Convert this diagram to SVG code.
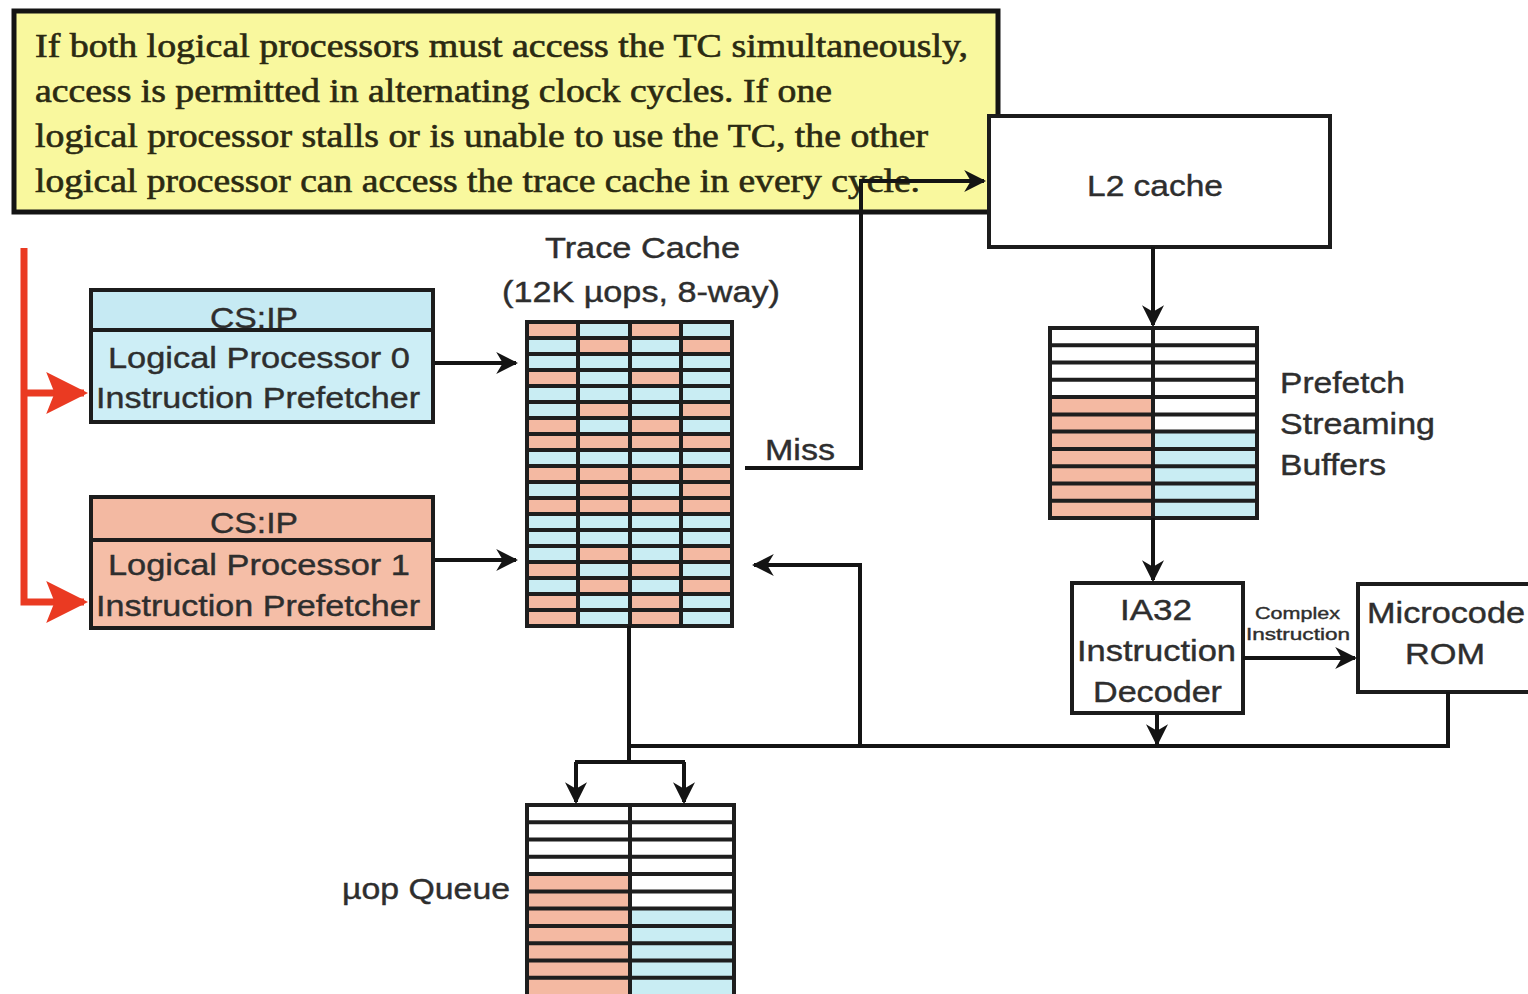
<svg xmlns="http://www.w3.org/2000/svg" width="1528" height="994" viewBox="0 0 1528 994">
  <style>
    .sans { font-family: "Liberation Sans", Arial, sans-serif; fill: #2e2e2e; stroke: #2e2e2e; stroke-width: 0.4; }
    .serif { font-family: "Liberation Serif", "Times New Roman", serif; fill: #2b2a12; stroke: #2b2a12; stroke-width: 0.6; font-size: 33px; }
    .box { stroke: #1c1c1c; stroke-width: 4; }
    .wire { fill: none; stroke: #141414; stroke-width: 4; }
    .red { fill: none; stroke: #ea3a22; stroke-width: 7; }
    .grid { stroke: #1e1e1e; stroke-width: 4; fill: none; }
    .pk { fill: #f4b9a2; }
    .bl { fill: #c9edf3; }
    .wh { fill: #ffffff; }
  </style>
  <defs>
    <marker id="arrow" viewBox="0 0 10 10" refX="9" refY="5" markerWidth="5.5" markerHeight="5.5" orient="auto" markerUnits="strokeWidth">
      <path d="M0,0 L10,5 L0,10 L3,5 Z" fill="#141414"/>
    </marker>
    <marker id="redArrow" viewBox="0 0 10 10" refX="9" refY="5" markerWidth="6" markerHeight="6" orient="auto" markerUnits="strokeWidth">
      <path d="M0,0 L10,5 L0,10 L2,5 Z" fill="#ea3a22"/>
    </marker>
    <!-- trace cache row fills: four cells of 51 px -->
    <g id="rowA"><rect class="pk" x="0" y="0" width="51" height="16"/><rect class="bl" x="51" y="0" width="52" height="16"/><rect class="pk" x="103" y="0" width="51" height="16"/><rect class="bl" x="154" y="0" width="51" height="16"/></g>
    <g id="rowB"><rect class="bl" x="0" y="0" width="51" height="16"/><rect class="pk" x="51" y="0" width="52" height="16"/><rect class="bl" x="103" y="0" width="51" height="16"/><rect class="pk" x="154" y="0" width="51" height="16"/></g>
    <g id="rowC"><rect class="bl" x="0" y="0" width="205" height="16"/></g>
    <g id="rowD"><rect class="pk" x="0" y="0" width="205" height="16"/></g>
  </defs>

  <rect width="1528" height="994" fill="#ffffff"/>

  <!-- note -->
  <g id="note">
    <rect x="14" y="11" width="984" height="201" fill="#f9f89e" stroke="#141414" stroke-width="5"/>
    <text class="serif" x="35" y="57" textLength="933" lengthAdjust="spacingAndGlyphs">If both logical processors must access the TC simultaneously,</text>
    <text class="serif" x="35" y="102" textLength="797" lengthAdjust="spacingAndGlyphs">access is permitted in alternating clock cycles. If one</text>
    <text class="serif" x="35" y="147" textLength="893" lengthAdjust="spacingAndGlyphs">logical processor stalls or is unable to use the TC, the other</text>
    <text class="serif" x="35" y="192" textLength="885" lengthAdjust="spacingAndGlyphs">logical processor can access the trace cache in every cycle.</text>
  </g>

  <!-- L2 cache -->
  <g id="l2cache">
    <rect class="box" x="989" y="116" width="341" height="131" fill="#ffffff"/>
    <text class="sans" x="1087" y="196" font-size="29" textLength="136" lengthAdjust="spacingAndGlyphs">L2 cache</text>
  </g>

  <!-- logical processor 0 prefetcher -->
  <g id="lp0">
    <rect x="91" y="290" width="342" height="132" fill="#cdeef6"/>
    <rect x="91" y="290" width="342" height="40" fill="#c6eaf3"/>
    <text class="sans" x="210" y="328" font-size="30" textLength="88" lengthAdjust="spacingAndGlyphs">CS:IP</text>
    <line x1="91" y1="330" x2="433" y2="330" stroke="#1c1c1c" stroke-width="4"/>
    <rect class="box" x="91" y="290" width="342" height="132" fill="none"/>
    <text class="sans" x="108" y="368" font-size="30" textLength="302" lengthAdjust="spacingAndGlyphs">Logical Processor 0</text>
    <text class="sans" x="96" y="408" font-size="30" textLength="324" lengthAdjust="spacingAndGlyphs">Instruction Prefetcher</text>
  </g>

  <!-- logical processor 1 prefetcher -->
  <g id="lp1">
    <rect x="91" y="497" width="342" height="131" fill="#f5bea7"/>
    <rect x="91" y="497" width="342" height="43" fill="#f3b9a2"/>
    <text class="sans" x="210" y="533" font-size="30" textLength="88" lengthAdjust="spacingAndGlyphs">CS:IP</text>
    <line x1="91" y1="540" x2="433" y2="540" stroke="#1c1c1c" stroke-width="4"/>
    <rect class="box" x="91" y="497" width="342" height="131" fill="none"/>
    <text class="sans" x="108" y="575" font-size="30" textLength="302" lengthAdjust="spacingAndGlyphs">Logical Processor 1</text>
    <text class="sans" x="96" y="616" font-size="30" textLength="324" lengthAdjust="spacingAndGlyphs">Instruction Prefetcher</text>
  </g>

  <!-- trace cache -->
  <g id="tracecache">
    <text class="sans" x="545" y="258" font-size="29" textLength="195" lengthAdjust="spacingAndGlyphs">Trace Cache</text>
    <text class="sans" x="502" y="302" font-size="29" textLength="278" lengthAdjust="spacingAndGlyphs">(12K µops, 8-way)</text>
    <g transform="translate(527,322)">
      <use href="#rowA" y="0"/>
      <use href="#rowB" y="16"/>
      <use href="#rowC" y="32"/>
      <use href="#rowA" y="48"/>
      <use href="#rowC" y="64"/>
      <use href="#rowB" y="80"/>
      <use href="#rowA" y="96"/>
      <use href="#rowD" y="112"/>
      <use href="#rowC" y="128"/>
      <use href="#rowD" y="144"/>
      <use href="#rowB" y="160"/>
      <use href="#rowD" y="176"/>
      <use href="#rowC" y="192"/>
      <use href="#rowC" y="208"/>
      <use href="#rowB" y="224"/>
      <use href="#rowA" y="240"/>
      <use href="#rowB" y="256"/>
      <use href="#rowA" y="272"/>
      <use href="#rowA" y="288"/>
      <path class="grid" d="M0,16H205M0,32H205M0,48H205M0,64H205M0,80H205M0,96H205M0,112H205M0,128H205M0,144H205M0,160H205M0,176H205M0,192H205M0,208H205M0,224H205M0,240H205M0,256H205M0,272H205M0,288H205M51,0V304M103,0V304M154,0V304"/>
      <rect class="grid" x="0" y="0" width="205" height="304"/>
    </g>
    <text class="sans" x="765" y="460" font-size="29" textLength="70" lengthAdjust="spacingAndGlyphs">Miss</text>
  </g>

  <!-- prefetch streaming buffers -->
  <g id="prefetchbuffers">
    <g transform="translate(1050,328)">
      <rect class="wh" x="0" y="0" width="207" height="190"/>
      <rect class="pk" x="0" y="69" width="103" height="121"/>
      <rect class="bl" x="103" y="104" width="104" height="86"/>
      <path class="grid" d="M0,17.3H207M0,34.5H207M0,51.8H207M0,69.1H207M0,86.4H207M0,103.6H207M0,120.9H207M0,138.2H207M0,155.5H207M0,172.7H207M103,0V190"/>
      <rect class="grid" x="0" y="0" width="207" height="190"/>
    </g>
    <text class="sans" x="1280" y="393" font-size="29" textLength="125" lengthAdjust="spacingAndGlyphs">Prefetch</text>
    <text class="sans" x="1280" y="434" font-size="29" textLength="155" lengthAdjust="spacingAndGlyphs">Streaming</text>
    <text class="sans" x="1280" y="475" font-size="29" textLength="106" lengthAdjust="spacingAndGlyphs">Buffers</text>
  </g>

  <!-- IA32 instruction decoder -->
  <g id="decoder">
    <rect class="box" x="1072" y="583" width="171" height="130" fill="#ffffff"/>
    <text class="sans" x="1120" y="620" font-size="29" textLength="72" lengthAdjust="spacingAndGlyphs">IA32</text>
    <text class="sans" x="1077" y="661" font-size="29" textLength="159" lengthAdjust="spacingAndGlyphs">Instruction</text>
    <text class="sans" x="1093" y="702" font-size="29" textLength="129" lengthAdjust="spacingAndGlyphs">Decoder</text>
  </g>

  <!-- microcode ROM -->
  <g id="microcode">
    <rect class="box" x="1358" y="584" width="172" height="108" fill="#ffffff"/>
    <text class="sans" x="1367" y="623" font-size="29" textLength="158" lengthAdjust="spacingAndGlyphs">Microcode</text>
    <text class="sans" x="1405" y="664" font-size="29" textLength="80" lengthAdjust="spacingAndGlyphs">ROM</text>
  </g>

  <!-- uop queue -->
  <g id="uopqueue">
    <g transform="translate(527,805)">
      <rect class="wh" x="0" y="0" width="207" height="200"/>
      <rect class="pk" x="0" y="69" width="103" height="131"/>
      <rect class="bl" x="103" y="104" width="104" height="96"/>
      <path class="grid" d="M0,17.3H207M0,34.5H207M0,51.8H207M0,69.1H207M0,86.4H207M0,103.6H207M0,120.9H207M0,138.2H207M0,155.5H207M0,172.7H207M103,0V200"/>
      <path class="grid" d="M0,200V0H207V200"/>
    </g>
    <text class="sans" x="342" y="899" font-size="29" textLength="168" lengthAdjust="spacingAndGlyphs">µop Queue</text>
  </g>

  <!-- connectors -->
  <g id="connectors">
    <!-- thread select -->
    <path class="red" d="M24,248V602H84" marker-end="url(#redArrow)"/>
    <path class="red" d="M24,393H84" marker-end="url(#redArrow)"/>
    <!-- prefetchers to trace cache -->
    <path class="wire" d="M435,363H516" marker-end="url(#arrow)"/>
    <path class="wire" d="M435,560H516" marker-end="url(#arrow)"/>
    <!-- miss path to L2 -->
    <path class="wire" d="M745,468H861V181H984" marker-end="url(#arrow)"/>
    <!-- L2 to buffers -->
    <path class="wire" d="M1153,247V325" marker-end="url(#arrow)"/>
    <!-- buffers to decoder -->
    <path class="wire" d="M1153,518V580" marker-end="url(#arrow)"/>
    <!-- complex instruction -->
    <path class="wire" d="M1243,658H1355" marker-end="url(#arrow)"/>
    <text class="sans" x="1255" y="619" font-size="17" textLength="85" lengthAdjust="spacingAndGlyphs" stroke-width="0.2">Complex</text>
    <text class="sans" x="1246" y="640" font-size="17" textLength="104" lengthAdjust="spacingAndGlyphs" stroke-width="0.2">Instruction</text>
    <!-- decoder output -->
    <path class="wire" d="M1157,713V744" marker-end="url(#arrow)"/>
    <!-- ROM output and return bus -->
    <path class="wire" d="M1448,692V746H629"/>
    <path class="wire" d="M860,746V565H754" marker-end="url(#arrow)"/>
    <!-- trace cache to uop queue -->
    <path class="wire" d="M629,626V762"/>
    <path class="wire" d="M575,762H685"/>
    <path class="wire" d="M576,762V802" marker-end="url(#arrow)"/>
    <path class="wire" d="M684,762V802" marker-end="url(#arrow)"/>
  </g>
</svg>
